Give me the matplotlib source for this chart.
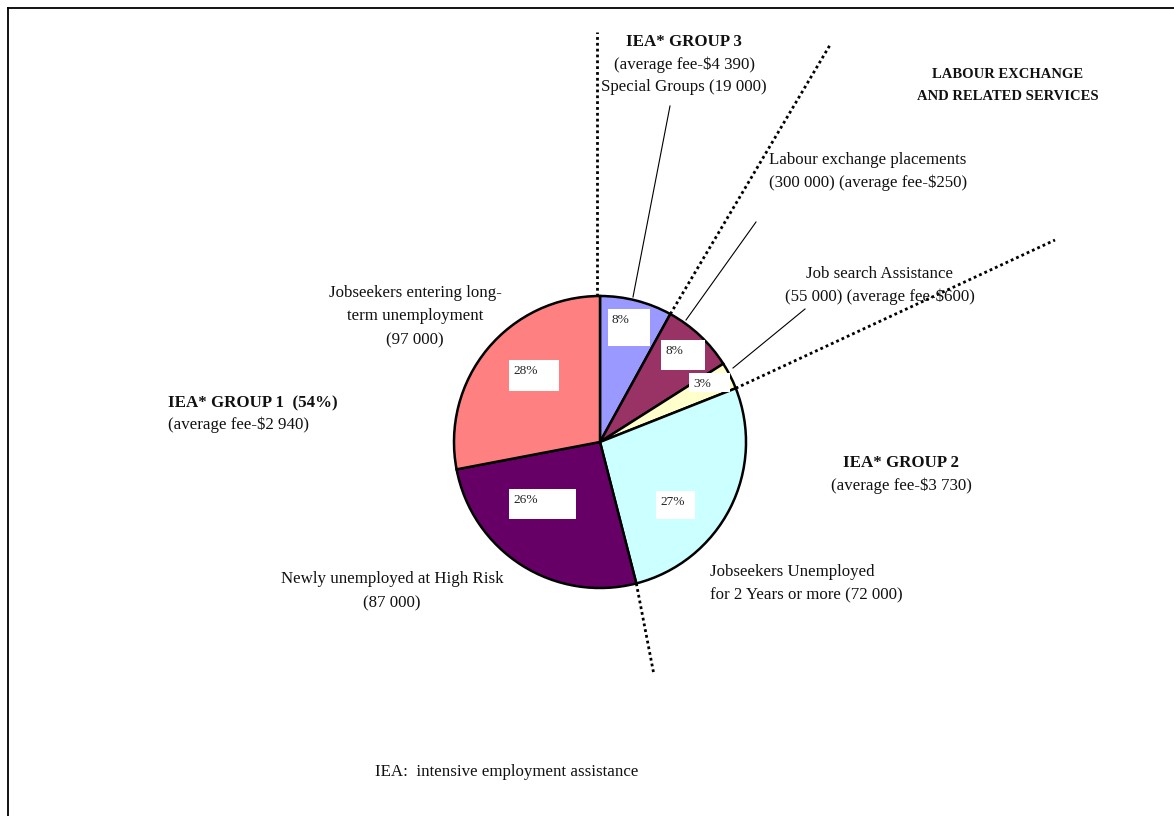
import matplotlib.pyplot as plt
import numpy as np
from matplotlib.patches import Rectangle

# Share of spending per client group (percent), clockwise from 12 o'clock
groups = ['Special Groups', 'Labour exchange placements', 'Job search Assistance',
          'Jobseekers Unemployed for 2 Years or more', 'Newly unemployed at High Risk',
          'Jobseekers entering long-term unemployment']
shares = [8, 8, 3, 27, 26, 28]
share_labels = ['8%', '8%', '3%', '27%', '26%', '28%']
colors = ['#9999FF', '#993366', '#FFFFCC', '#CCFFFF', '#660066', '#FF8080']

W, H = 1174, 816
CX, CY, R = 600, 442, 146

plt.rcParams['font.family'] = ['Liberation Serif', 'DejaVu Serif']

fig = plt.figure(figsize=(W / 100, H / 100), dpi=100)
ax = fig.add_axes([0, 0, 1, 1])

# y axis runs downward, so start at -90 and go "counterclockwise" to get
# a pie that starts at the top and runs clockwise on screen
ax.pie(shares, colors=colors, startangle=-90, counterclock=True,
       center=(CX, CY), radius=R, frame=True,
       wedgeprops=dict(edgecolor='black', linewidth=1.8))
ax.set_xlim(0, W)
ax.set_ylim(H, 0)
ax.set_aspect('equal')
ax.axis('off')


def rim_point(frac, r):
    a = np.deg2rad(90 - 360 * frac)
    return CX + r * np.cos(a), CY - r * np.sin(a)


# white boxes holding the percentages (x0, y0, x1, y1)
boxes = [(608, 309, 650, 346), (661, 340, 705, 370), (689, 373, 730, 392),
         (656, 491, 695, 519), (509, 489, 576, 519), (509, 360, 559, 391)]
for (x0, y0, x1, y1), lab in zip(boxes, share_labels):
    ax.add_patch(Rectangle((x0, y0), x1 - x0, y1 - y0, facecolor='white',
                           edgecolor='none', zorder=4))
    ax.text(x0 + 4, y0 + 11, lab, fontsize=9.6, color='#222222',
            ha='left', va='center', zorder=5)

# dotted separators between the groups
cum = np.concatenate([[0], np.cumsum(shares)]) / sum(shares)
separators = [(0, (597, 32)), (1, (830, 45)), (3, (1055, 240)), (4, (654, 675))]
for idx, (ex, ey) in separators:
    sx, sy = rim_point(cum[idx], R)
    if idx == 0:
        sx = ex
    ax.plot([sx, ex], [sy, ey], color='black', lw=2.0,
            linestyle=(0, (1, 1.1)), zorder=3)

# thin leader lines from the labels to their slices
leaders = [((670, 106), (633, 297)), ((756, 222), (686, 320)),
           ((805, 309), (733, 368))]
for (x0, y0), (x1, y1) in leaders:
    ax.plot([x0, x1], [y0, y1], color='black', lw=0.8, zorder=3)

# frame
ax.plot([8, W + 5], [8, 8], color='black', lw=1.3, clip_on=False)
ax.plot([8, 8], [8, H + 5], color='black', lw=1.3, clip_on=False)

txt = dict(fontsize=12.2, color='#111111', va='center')
bold = dict(fontsize=12.2, color='#111111', va='center', fontweight='bold')

ax.text(684, 42, 'IEA* GROUP 3', ha='center', **bold)
ax.text(684, 65, '(average fee-\\$4 390)', ha='center', **txt)
ax.text(684, 87, 'Special Groups (19 000)', ha='center', **txt)

ax.text(1008, 75, 'LABOUR EXCHANGE', ha='center', fontsize=10.5,
        fontweight='bold', color='#111111', va='center')
ax.text(1008, 97, 'AND RELATED SERVICES', ha='center', fontsize=10.5,
        fontweight='bold', color='#111111', va='center')

ax.text(868, 160, 'Labour exchange placements', ha='center', **txt)
ax.text(868, 183, '(300 000) (average fee-\\$250)', ha='center', **txt)

ax.text(880, 274, 'Job search Assistance', ha='center', **txt)
ax.text(880, 297, '(55 000) (average fee-\\$600)', ha='center', **txt)

ax.text(415, 293, 'Jobseekers entering long-', ha='center', **txt)
ax.text(415, 316, 'term unemployment', ha='center', **txt)
ax.text(415, 340, '(97 000)', ha='center', **txt)

ax.text(168, 403, 'IEA* GROUP 1  (54%)', ha='left', **bold)
ax.text(168, 425, '(average fee-\\$2 940)', ha='left', **txt)

ax.text(901, 463, 'IEA* GROUP 2', ha='center', **bold)
ax.text(901, 486, '(average fee-\\$3 730)', ha='center', **txt)

ax.text(710, 572, 'Jobseekers Unemployed', ha='left', **txt)
ax.text(710, 595, 'for 2 Years or more (72 000)', ha='left', **txt)

ax.text(392, 579, 'Newly unemployed at High Risk', ha='center', **txt)
ax.text(392, 603, '(87 000)', ha='center', **txt)

ax.text(375, 772, 'IEA:  intensive employment assistance', ha='left', **txt)

fig.savefig('out.png', dpi=100, facecolor='white')
